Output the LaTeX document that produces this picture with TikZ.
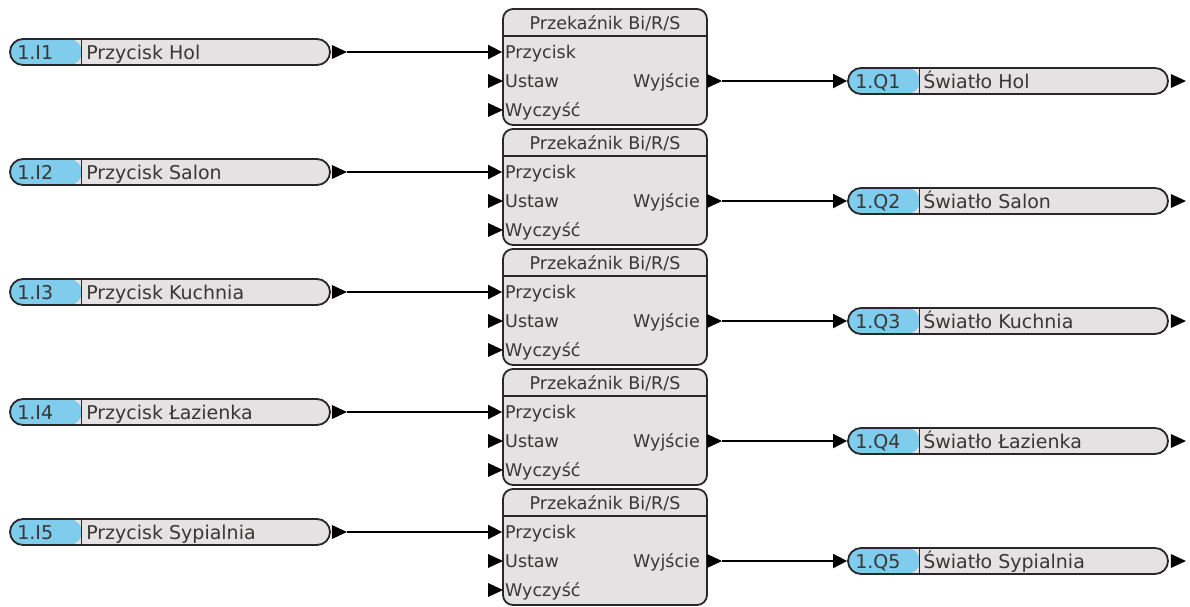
\documentclass[tikz,border=0pt]{standalone}
\usepackage{fontspec}
\setmainfont{DejaVu Sans}
\usetikzlibrary{arrows.meta, positioning}
\definecolor{portblue}{RGB}{128,204,236}
\definecolor{boxgray}{RGB}{228,226,226}
\definecolor{edgegray}{RGB}{40,40,40}
\definecolor{txtgray}{RGB}{58,54,54}
\tikzset{
    port/.style={draw=edgegray, fill=boxgray, line width=1.8pt, rounded corners=13pt,
        minimum width=320pt, minimum height=26pt, inner sep=0pt,
        path picture={\fill[portblue] (path picture bounding box.south west) rectangle ++(72pt,26pt);}},
    relay/.style={draw=edgegray, fill=boxgray, line width=1.8pt, rounded corners=10pt,
        minimum width=204pt, minimum height=116pt, inner sep=0pt},
    lbl/.style={text=txtgray, font=\fontsize{19}{22}\selectfont, inner sep=0pt, anchor=base west},
    rlbl/.style={text=txtgray, font=\fontsize{17.5}{20}\selectfont, inner sep=0pt},
    wire/.style={line width=1.8pt, -{Triangle[length=14pt,width=14pt]}},
}

\begin{document}
\begin{tikzpicture}[x=1pt, y=-1pt]
            \useasboundingbox (0,0) rectangle (1190,606);

            \foreach \i/\room in {1/Hol, 2/Salon, 3/Kuchnia, 4/Łazienka, 5/Sypialnia} {
                % top edge of this row's relay
                \pgfmathsetmacro\T{9 + 120*(\i-1)}

                % input port
                \node[port] (in\i) at (170, \T+43) {};
                \draw[edgegray, line width=1.2pt] ([xshift=72pt]in\i.south west) -- ++(0,26pt);
                \node[lbl] at ([xshift=8pt, yshift=-7pt]in\i.west) {1.I\i};
                \node[lbl] at ([xshift=77pt, yshift=-7pt]in\i.west) {Przycisk \room};
                \fill ([xshift=1pt]in\i.east) -- ++(0,7pt) -- ++(15pt,-7pt) -- ++(-15pt,-7pt) -- cycle;
                \coordinate (inp\i) at ([xshift=16pt]in\i.east);

                % relay block
                \node[relay] (rel\i) at (605, \T+58) {};
                \draw[edgegray, line width=1.5pt] ([yshift=-28pt]rel\i.north west) -- ([yshift=-28pt]rel\i.north east);
                \node[rlbl, anchor=base] at (605, \T+20) {Przekaźnik Bi/R/S};
                \node[rlbl, anchor=base west] at (505, \T+49) {Przycisk};
                \node[rlbl, anchor=base west] at (505, \T+78) {Ustaw};
                \node[rlbl, anchor=base west] at (505, \T+107) {Wyczyść};
                \node[rlbl, anchor=base east] at (700, \T+78) {Wyjście};
                \fill (488, \T+65) -- (503, \T+72) -- (488, \T+79) -- cycle;
                \fill (488, \T+94) -- (503, \T+101) -- (488, \T+108) -- cycle;
                \fill (707, \T+65) -- (722, \T+72) -- (707, \T+79) -- cycle;
                \coordinate (outp\i) at (722, \T+72);

                % output port
                \node[port] (out\i) at (1008, \T+72) {};
                \draw[edgegray, line width=1.2pt] ([xshift=72pt]out\i.south west) -- ++(0,26pt);
                \node[lbl] at ([xshift=8pt, yshift=-7pt]out\i.west) {1.Q\i};
                \node[lbl] at ([xshift=76pt, yshift=-7pt]out\i.west) {Światło \room};
                \fill ([xshift=2pt]out\i.east) -- ++(0,7pt) -- ++(15pt,-7pt) -- ++(-15pt,-7pt) -- cycle;

                % connections
                \draw[wire] (inp\i) -- (inp\i -| rel\i.west);
                \draw[wire] (outp\i) -- (out\i.west);
            }

        \end{tikzpicture}
\end{document}
